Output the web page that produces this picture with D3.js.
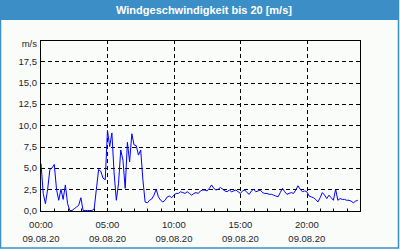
<!DOCTYPE html>
<html>
<head>
<meta charset="utf-8">
<script src="https://cdn.jsdelivr.net/npm/d3@7"></script>
<style>
  body { margin: 0; background: #fff; }
  text { font-family: "Liberation Sans", Arial, sans-serif; }
</style>
</head>
<body>
<script>
// 10-minute wind readings on 09.08.20, m/s
var startTime = new Date(2020, 7, 9, 0, 0);
var stepMinutes = 10;
var windValues = [
  5.5, 2.0, 0.8, 2.5, 4.8, 5.0, 5.4, 2.5, 1.2, 2.5, 1.3, 3.0,
  0.8, 0.0, 0.0, 0.2, 0.4, 0.6, 1.5, 0.0, 0.0, 0.0, 0.0, 0.0,
  0.2, 2.5, 4.8, 4.6, 3.8, 3.6, 9.4, 7.5, 9.1, 4.4, 1.2, 3.2,
  7.1, 5.9, 2.6, 8.0, 5.7, 9.0, 7.7, 7.6, 6.5, 7.1, 3.6, 1.0,
  0.9, 1.2, 1.35, 1.8, 2.5, 1.6, 1.2, 1.0, 1.2, 1.6, 1.7, 1.5,
  1.8, 2.0, 2.0, 2.2, 2.1, 2.0, 2.2, 2.0, 1.8, 2.0, 2.1, 2.0,
  2.3, 2.4, 2.4, 2.3, 2.6, 3.0, 2.6, 2.4, 2.5, 2.7, 2.5, 2.3,
  2.2, 2.4, 2.2, 2.3, 2.4, 2.2, 2.0, 2.3, 2.4, 2.1, 1.9, 2.3,
  2.5, 2.2, 2.3, 2.4, 2.1, 2.0, 2.0, 1.9, 1.9, 1.8, 1.7, 1.6,
  2.1, 2.6, 2.2, 1.9, 2.0, 2.1, 2.0, 2.4, 2.9, 2.5, 2.2, 2.3,
  2.2, 1.7, 1.6, 1.5, 1.3, 1.0, 1.5, 2.1, 1.8, 1.4, 1.8, 1.5,
  1.2, 2.5, 1.2, 1.4, 1.3, 1.3, 1.2, 1.2, 1.1, 0.9, 1.1, 1.2
];
var yTicks = [0, 2.5, 5, 7.5, 10, 12.5, 15, 17.5];
var yGridTicks = [2.5, 5, 7.5, 10, 12.5, 15, 17.5];
var xLabelHours = [0, 5, 10, 15, 20];
var titleText = "Windgeschwindigkeit bis 20 [m/s]";
var unitText = "m/s";

var width = 400, height = 250;
var margin = {left: 41, right: 40, top: 40, bottom: 40};

var svg = d3.select("body").append("svg")
    .attr("width", width)
    .attr("height", height);

// frame and title bar
svg.append("rect")
    .attr("x", 0).attr("y", 0)
    .attr("width", 399).attr("height", 249)
    .attr("fill", "#fafcfa");

svg.append("rect")
    .attr("x", 0).attr("y", 0)
    .attr("width", 399).attr("height", 20)
    .attr("fill", "#3b8fc6");

svg.append("rect")
    .attr("x", 0.5).attr("y", 0.5)
    .attr("width", 398).attr("height", 247.5)
    .attr("fill", "none")
    .attr("stroke", "#3b8fc6")
    .attr("stroke-width", 1.5);

svg.append("text")
    .attr("x", 204)
    .attr("y", 14)
    .attr("text-anchor", "middle")
    .attr("fill", "#fff")
    .attr("font-weight", "bold")
    .attr("font-size", "11px")
    .text(titleText);

var x = d3.scaleTime()
    .domain([startTime, d3.timeHour.offset(startTime, 24)])
    .range([margin.left, width - margin.right]);

var y = d3.scaleLinear()
    .domain([0, 20])
    .range([height - margin.bottom + 0.5, margin.top]);

var locale = d3.formatLocale({decimal: ",", thousands: ".", grouping: [3], currency: ["", " €"]});
var fmt = locale.format(".1f");

var data = windValues.map(function(v, i) {
  return {t: d3.timeMinute.offset(startTime, i * stepMinutes), v: v};
});

var g = svg.append("g");

// grid
g.selectAll(".hgrid")
  .data(yGridTicks)
  .enter().append("line")
    .attr("x1", x.range()[0])
    .attr("x2", x.range()[1])
    .attr("y1", function(d) { return Math.round(y(d)) + 0.5; })
    .attr("y2", function(d) { return Math.round(y(d)) + 0.5; })
    .attr("stroke", "#000")
    .attr("stroke-dasharray", "4,3");

g.selectAll(".vgrid")
  .data(xLabelHours.slice(1))
  .enter().append("line")
    .attr("x1", function(d) { return Math.round(x(d3.timeHour.offset(startTime, d))) + 0.5; })
    .attr("x2", function(d) { return Math.round(x(d3.timeHour.offset(startTime, d))) + 0.5; })
    .attr("y1", y.range()[1])
    .attr("y2", y.range()[0])
    .attr("stroke", "#000")
    .attr("stroke-dasharray", "4,3");

// hourly ticks on bottom
g.selectAll(".htick")
  .data(d3.range(1, 24))
  .enter().append("line")
    .attr("x1", function(d) { return Math.round(x(d3.timeHour.offset(startTime, d))) + 0.5; })
    .attr("x2", function(d) { return Math.round(x(d3.timeHour.offset(startTime, d))) + 0.5; })
    .attr("y1", Math.round(y(0)) + 0.5)
    .attr("y2", Math.round(y(0)) + 0.5 - 3)
    .attr("stroke", "#000");

// data line
g.append("path")
    .datum(data)
    .attr("fill", "none")
    .attr("stroke", "#0000ff")
    .attr("stroke-width", 1)
    .attr("d", d3.line()
        .x(function(d) { return x(d.t); })
        .y(function(d) { return y(d.v); }));

// plot box
g.append("rect")
    .attr("x", Math.round(x.range()[0]) - 0.5)
    .attr("y", Math.round(y.range()[1]) + 0.5)
    .attr("width", Math.round(x.range()[1]) - Math.round(x.range()[0]) + 1)
    .attr("height", Math.round(y(0)) - Math.round(y.range()[1]))
    .attr("fill", "none")
    .attr("stroke", "#000");

// y labels
g.selectAll(".ylab")
  .data(yTicks)
  .enter().append("text")
    .attr("x", 37)
    .attr("y", function(d) { return y(d); })
    .attr("dy", "0.35em")
    .attr("text-anchor", "end")
    .attr("font-size", "9.5px")
    .attr("fill", "#1e1e2a")
    .text(fmt);

g.append("text")
    .attr("x", 37)
    .attr("y", 47)
    .attr("text-anchor", "end")
    .attr("font-size", "9.5px")
    .attr("fill", "#1e1e2a")
    .text(unitText);

// x labels: time and date
var timeFmt = d3.timeFormat("%H:%M");
var dateFmt = d3.timeFormat("%d.%m.%y");

var xl = g.selectAll(".xlab")
  .data(xLabelHours)
  .enter().append("g")
    .attr("transform", function(d) { return "translate(" + x(d3.timeHour.offset(startTime, d)) + ",0)"; });

xl.append("text")
    .attr("y", 228)
    .attr("text-anchor", "middle")
    .attr("font-size", "9.5px")
    .attr("fill", "#1e1e2a")
    .text(function(d) { return timeFmt(d3.timeHour.offset(startTime, d)); });

xl.append("text")
    .attr("y", 242)
    .attr("text-anchor", "middle")
    .attr("font-size", "9.5px")
    .attr("fill", "#1e1e2a")
    .text(function(d) { return dateFmt(d3.timeHour.offset(startTime, d)); });
</script>
</body>
</html>
